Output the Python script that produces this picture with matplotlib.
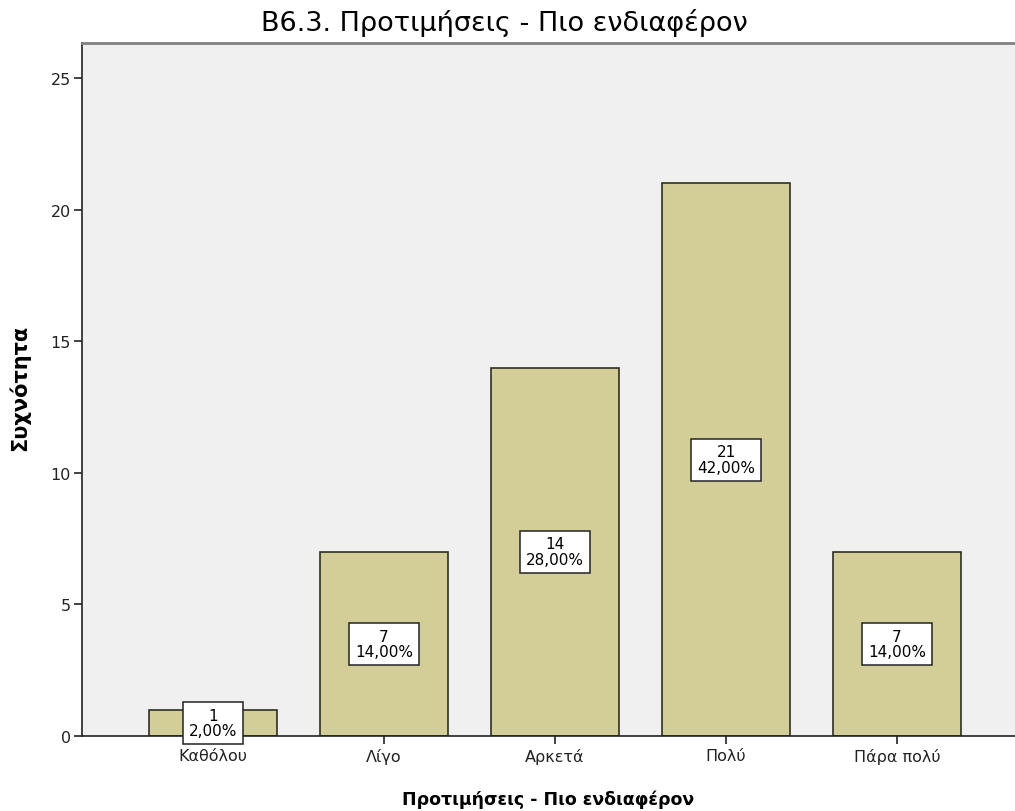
import matplotlib
matplotlib.use("Agg")
import matplotlib.pyplot as plt

plt.rcParams['font.family'] = ['DejaVu Sans']

categories = ["Καθόλου", "Λίγο", "Αρκετά", "Πολύ", "Πάρα πολύ"]
counts = [1, 7, 14, 21, 7]
percents = ["2,00%", "14,00%", "28,00%", "42,00%", "14,00%"]

fig = plt.figure(figsize=(10.15, 8.12), dpi=100)
ax = fig.add_axes([0.0808, 0.0924, 0.9192, 0.8534])
ax.set_facecolor("#F0F0F0")

x = list(range(len(categories)))
ax.bar(x, counts, width=0.745, color="#D3CE97", edgecolor="#2f2f22", linewidth=1.2, zorder=2)

for xi, c, p in zip(x, counts, percents):
    ax.text(xi, c / 2, f"{c}\n{p}", ha="center", va="center", fontsize=11,
            linespacing=1.05, zorder=3,
            bbox=dict(boxstyle="square,pad=0.38", facecolor="white", edgecolor="#222222", linewidth=1.1))

ax.set_xlim(-0.766, 4.69)
ax.set_ylim(0, 26.33)
ax.set_yticks([0, 5, 10, 15, 20, 25])
ax.set_xticks(x)
ax.set_xticklabels(categories, fontsize=11.5)
ax.tick_params(axis="y", labelsize=11.5, length=6, width=1.2, direction="out", colors="#222222", pad=2)
ax.tick_params(axis="x", length=6, width=1.2, direction="out", colors="#222222", pad=3)

ax.spines["right"].set_visible(False)
ax.spines["top"].set_color("#808080")
ax.spines["top"].set_linewidth(2)
ax.spines["left"].set_color("#222222")
ax.spines["bottom"].set_color("#222222")
ax.spines["left"].set_linewidth(1.2)
ax.spines["bottom"].set_linewidth(1.2)

fig.text(0.5404, 0.0148, "Προτιμήσεις - Πιο ενδιαφέρον", ha="center", va="center",
         fontsize=12.5, fontweight="bold")
fig.text(0.019, 0.522, "Συχνότητα", ha="center", va="center", rotation=90,
         fontsize=15, fontweight="bold")
fig.text(0.497, 0.972, "B6.3. Προτιμήσεις - Πιο ενδιαφέρον", ha="center", va="center",
         fontsize=19.5)

fig.savefig("out.png", dpi=100)
